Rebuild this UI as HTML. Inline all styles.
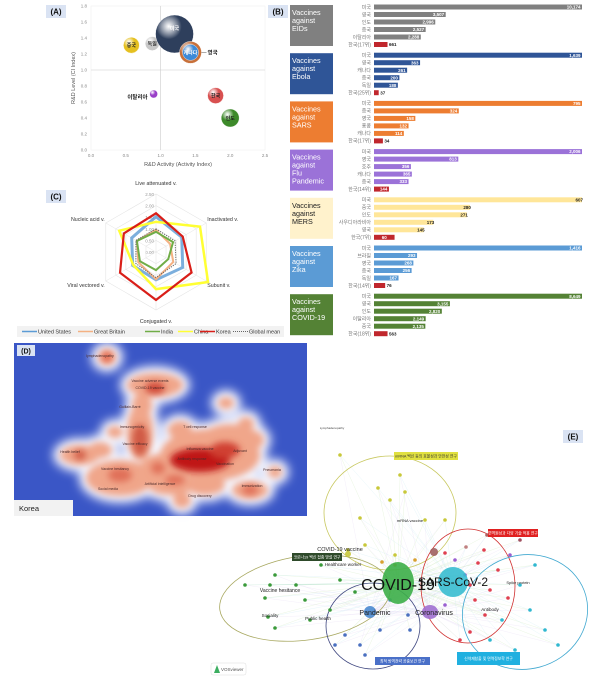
<!DOCTYPE html>
<html><head><meta charset="utf-8"><style>
html,body{margin:0;padding:0;background:#fff;}
svg{display:block;font-family:"Liberation Sans","Noto Sans CJK KR",sans-serif;}
</style></head><body>
<svg id="fig" width="616" height="679" viewBox="0 0 616 679" xmlns="http://www.w3.org/2000/svg">
<defs>
<filter id="b6" x="-50%" y="-50%" width="200%" height="200%"><feGaussianBlur stdDeviation="5"/></filter>
<filter id="b4" x="-50%" y="-50%" width="200%" height="200%"><feGaussianBlur stdDeviation="3.5"/></filter>
<filter id="b3" x="-50%" y="-50%" width="200%" height="200%"><feGaussianBlur stdDeviation="3"/></filter>
</defs>
<g id="panelA"></g>
<g id="panelB"></g>
<g id="panelC"></g>
<g id="panelD"></g>
<g id="panelE"></g>
</svg>
<script>
// ---------- Panel A data ----------
const bubbleNames = ['중국','독일','미국','영국','캐나다','이탈리아','한국','인도'];
const bubbleActivity = [0.58,0.88,1.2,1.43,1.43,0.9,1.79,2.0];
const bubbleLevel = [1.31,1.33,1.45,1.22,1.22,0.7,0.68,0.4];
const bubbleSize = [8,7,19,11,8,4,8,9];
const aTicksX = ['0.0','0.5','1.0','1.5','2.0','2.5'];
const aTicksY = ['0.0','0.2','0.4','0.6','0.8','1.0','1.2','1.4','1.6','1.8'];
// ---------- Panel B data ----------
const groupNames = [['Vaccines','against','EIDs'],['Vaccines','against','Ebola'],['Vaccines','against','SARS'],['Vaccines','against','Flu','Pandemic'],['Vaccines','against','MERS'],['Vaccines','against','Zika'],['Vaccines','against','COVID-19']];
const countryLabels = [
 ['미국','영국','인도','중국','이탈리아','한국(17위)'],
 ['미국','영국','캐나다','중국','독일','한국(25위)'],
 ['미국','중국','영국','홍콩','캐나다','한국(17위)'],
 ['미국','영국','호주','캐나다','중국','한국(14위)'],
 ['미국','중국','인도','사우디아라비아','영국','한국(7위)'],
 ['미국','브라질','영국','중국','독일','한국(14위)'],
 ['미국','영국','인도','이탈리아','중국','한국(18위)']];
const barValues = [
 [10174,3507,2996,2527,2288,661],
 [1639,363,261,200,188,37],
 [795,324,158,132,114,34],
 [2006,813,356,365,333,144],
 [607,280,271,173,145,60],
 [1416,293,268,256,167,76],
 [8649,3155,2820,2149,2135,563]];
// ---------- Panel C data ----------
const radarAxes = ['Live attenuated v.','Inactivated v.','Subunit v.','Conjugated v.','Viral vectored v.','Nucleic acid v.'];
const radarTicks = [0,0.5,1.0,1.5,2.0,2.5];
const usValues = [1.52,1.28,1.33,1.2,1.16,1.21];
const gbValues = [0.95,0.7,0.86,1.18,0.88,0.95];
const indiaValues = [0.87,0.85,0.61,0.78,0.8,0.95];
const chinaValues = [1.3,2.19,2.59,1.6,1.13,1.83];
const koreaValues = [1.67,1.33,1.77,2.07,1.79,1.6];
const globalValues = [1.0,0.95,1.0,1.1,1.0,1.0];

const NS='http://www.w3.org/2000/svg';
function el(parent,tag,attrs,text){const e=document.createElementNS(NS,tag);for(const k in attrs)e.setAttribute(k,attrs[k]);if(text!==undefined)e.textContent=text;parent.appendChild(e);return e;}
function labelBox(parent,x,y,t){const g=el(parent,'g',{});el(g,'rect',{x:x,y:y,width:20,height:13,fill:'#dae3f3'});el(g,'text',{x:x+10,y:y+9.5,'font-size':8,'font-weight':'bold','text-anchor':'middle',fill:'#111'},t);}

// ===== Panel A =====
(function(){
 const g=document.getElementById('panelA');
 labelBox(g,46,5,'(A)');
 const x0=91,x1=265,y0=150,y1=6;
 const sx=v=>x0+(v/2.5)*(x1-x0), sy=v=>y0-(v/1.8)*(y0-y1);
 const pa=el(g,'rect',{x:x0,y:y1,width:x1-x0,height:y0-y1,fill:'#fff',stroke:'#eee','stroke-width':0.5});
 
 aTicksX.forEach(t=>{const tx=el(g,'text',{x:sx(+t),y:y0+7,'font-size':4.5,'text-anchor':'middle',fill:'#888'},t);});
 aTicksY.forEach(t=>{const tx=el(g,'text',{x:x0-4,y:sy(+t)+1.5,'font-size':4.5,'text-anchor':'end',fill:'#888'},t);});
 el(g,'line',{x1:sx(1),y1:y1,x2:sx(1),y2:y0,stroke:'#ccc','stroke-width':0.6});
 el(g,'line',{x1:x0,y1:sy(1),x2:x1,y2:sy(1),stroke:'#ccc','stroke-width':0.6});
 const xt=el(g,'text',{x:178,y:166,'font-size':5.5,'text-anchor':'middle',fill:'#555'},'R&D Activity (Activity Index)');
 
 const yt=el(g,'text',{x:75,y:78,'font-size':5.5,'text-anchor':'middle',fill:'#555',transform:'rotate(-90 75 78)'},'R&D Level (CI Index)');
 
 const fills=['#e5c020','#c8c8c8','#2e3f5c','#c8703a','#3d8ad8','#9a40c8','#d85050','#3d8a2a'];
 const tcol=['#222','#333','#fff','#fff','#fff','#222','#222','#222'];
 const defs=document.querySelector('defs');
 bubbleNames.forEach((n,i)=>{
  const gr=el(defs,'radialGradient',{id:'bg'+i,cx:'35%',cy:'30%',r:'75%'});
  el(gr,'stop',{offset:'0%','stop-color':'#fff','stop-opacity':0.85});
  el(gr,'stop',{offset:'45%','stop-color':fills[i]});
  el(gr,'stop',{offset:'100%','stop-color':fills[i],'stop-opacity':1});
  const c=el(g,'circle',{cx:sx(bubbleActivity[i]),cy:sy(bubbleLevel[i]),r:bubbleSize[i],fill:'url(#bg'+i+')',stroke:'#fff','stroke-width':0.4});
  
  const cx=sx(bubbleActivity[i]),cy=sy(bubbleLevel[i]);
  let t;
  if(n==='영국'){el(g,'line',{x1:cx+11,y1:cy,x2:cx+16,y2:cy,stroke:'#555','stroke-width':0.5});t=el(g,'text',{x:cx+17,y:cy+2,'font-size':5.5,'font-weight':'bold',fill:'#222'},n);}
  else if(n==='이탈리아'){t=el(g,'text',{x:cx-6,y:cy+5,'font-size':5.5,'font-weight':'bold','text-anchor':'end',fill:'#222'},n);}
  else t=el(g,'text',{x:cx,y:cy+(n==='미국'?-4:2),'font-size':5,'font-weight':'bold','text-anchor':'middle',fill:tcol[i]},n);
  
 });
})();

// ===== Panel B =====
(function(){
 const g=document.getElementById('panelB');
 labelBox(g,268,5,'(B)');
 const colors=['#808080','#2f5597','#ed7d31','#9b72d8','#ffe699','#5b9bd5','#548235'];
 const startX=374,maxW=208;
 groupNames.forEach((lines,gi)=>{
  const top=5+gi*48.2;
  const box=el(g,'rect',{x:290,y:top,width:43,height:41,fill:gi===4?'#fff2cc':colors[gi]});
  
  lines.forEach((ln,li)=>{el(g,'text',{x:292,y:top+10+li*8,'font-size':7.2,fill:gi===4?'#222':'#fff'},ln);});
  const vals=barValues[gi],mx=Math.max(...vals);
  vals.forEach((v,j)=>{
   const cy=top+2+j*7.5;
   const w=Math.max(3,v/mx*maxW);
   const isK=j===5;
   const r=el(g,'rect',{x:startX,y:cy-2.5,width:w,height:5,fill:isK?'#c0272d':colors[gi]});
   
   const lb=el(g,'text',{x:startX-3,y:cy+1.8,'font-size':5,'text-anchor':'end',fill:'#777'},countryLabels[gi][j]);
   
   const s=v.toLocaleString('en-US');
   let vt;
   if(gi===4) vt=el(g,'text',{x:isK?startX+w/2:startX+w+1,y:cy+1.6,'font-size':4.5,'font-weight':'bold','text-anchor':isK?'middle':'end',fill:isK?'#fff':'#222'},s);
   else if(w<14) vt=el(g,'text',{x:startX+w+1.5,y:cy+1.6,'font-size':4.5,'font-weight':'bold',fill:'#222'},s);
   else vt=el(g,'text',{x:startX+w-1.5,y:cy+1.6,'font-size':4.5,'font-weight':'bold','text-anchor':'end',fill:'#fff'},s);
   
  });
 });
})();

// ===== Panel C =====
(function(){
 const g=document.getElementById('panelC');
 labelBox(g,46,190,'(C)');
 const cx=156,cy=252,R=58,mx=2.5;
 const pt=(k,v)=>{const a=(-90+60*k)*Math.PI/180;return [cx+Math.cos(a)*v/mx*R,cy+Math.sin(a)*v/mx*R];};
 radarTicks.forEach(t=>{const p=radarAxes.map((_,k)=>pt(k,t).join(',')).join(' ');el(g,'polygon',{points:p,fill:'none',stroke:'#e4e4e4','stroke-width':0.6});
  const tl=el(g,'text',{x:cx-2,y:cy-t/mx*R+2,'font-size':4.5,'text-anchor':'end',fill:'#999'},t.toFixed(2));});
 radarAxes.forEach((a,k)=>{const p=pt(k,mx);el(g,'line',{x1:cx,y1:cy,x2:p[0],y2:p[1],stroke:'#e4e4e4','stroke-width':0.5});
  const lp=pt(k,mx+0.35);const anc=k===0||k===3?'middle':(k<3?'start':'end');
  const t=el(g,'text',{x:lp[0]+(k===1||k===2?-6:(k>3?6:0)),y:lp[1]+(k===0?-1:(k===3?5:2)),'font-size':5.3,'text-anchor':anc,fill:'#333'},a);
  });
 const series=[[usValues,'#5b9bd5',3,'',0.8],[gbValues,'#f4b183',2,'',1],[indiaValues,'#70ad47',2,'',1],[chinaValues,'#ffff33',2.5,'',1],[koreaValues,'#d91e18',2.2,'',1],[globalValues,'#666',1,'1.2,1.2',1]];
 const names=['united-states','great-britain','india','china','korea','global-mean'];
 series.forEach((s,i)=>{const p=s[0].map((v,k)=>pt(k,v).join(',')).join(' ');
  const pg=el(g,'polygon',{points:p,fill:'none',stroke:s[1],'stroke-width':s[2],'stroke-dasharray':s[3],opacity:s[4],'stroke-linejoin':'miter'});
  });
 const lg=el(g,'g',{});
 el(lg,'rect',{x:17,y:326,width:267,height:11,fill:'#f2f2f2'});
 const items=[['United States',22,'#5b9bd5',1.5,''],['Great Britain',78,'#f4b183',1.5,''],['India',145,'#70ad47',1.5,''],['China',178,'#ffff33',1.5,''],['Korea',200,'#d91e18',1.5,''],['Global mean',233,'#666',1,'1,1']];
 items.forEach(it=>{const e=el(lg,'g',{});
  el(e,'line',{x1:it[1],y1:331.5,x2:it[1]+15,y2:331.5,stroke:it[2],'stroke-width':it[3],'stroke-dasharray':it[4]});
  el(e,'text',{x:it[1]+16,y:333.5,'font-size':5.5,fill:'#333'},it[0]);});
})();

// ===== Panel D =====
(function(){
 const g=document.getElementById('panelD');
 const bg=el(g,'rect',{x:14,y:343,width:293,height:173,fill:'#3a56c6'});
 
 const blobs=[[107,357,9,8],[155,385,28,12],[142,405,10,12],[140,432,13,28],[210,455,50,26],[230,440,30,16],[80,455,20,10],[120,478,34,18],[160,468,20,14],[250,490,18,9],[275,472,7,6],[226,403,8,6],[246,424,8,7],[182,500,9,8],[250,440,14,10],[180,430,12,9],[115,432,8,6],[170,485,22,10],[100,450,12,8],[205,485,20,10]];
 const hal=el(g,'g',{filter:'url(#b6)'});
 blobs.forEach(b=>el(hal,'ellipse',{cx:b[0],cy:b[1],rx:b[2]+7,ry:b[3]+7,fill:'#f4f6ff'}));
 const mid=el(g,'g',{filter:'url(#b4)'});
 blobs.forEach(b=>el(mid,'ellipse',{cx:b[0],cy:b[1],rx:b[2],ry:b[3],fill:'#f0a68a'}));
 const core=el(g,'g',{filter:'url(#b4)'});
 [[200,460,30,12,'#c01818'],[225,450,15,8,'#d04030'],[155,388,10,6,'#d04a38'],[140,440,8,16,'#d05a44'],[107,357,5,5,'#e06048'],[80,455,6,5,'#d05a44'],[120,475,12,7,'#e07058'],[158,468,7,6,'#e07058'],[250,490,8,5,'#e07058'],[175,480,10,5,'#e07058']].forEach(c=>el(core,'ellipse',{cx:c[0],cy:c[1],rx:c[2],ry:c[3],fill:c[4]}));
 const words=[[100,357,'lymphadenopathy'],[150,382,'Vaccine adverse events'],[150,389,'COVID-19 vaccine'],[130,408,'Guillain-Barré'],[132,428,'Immunogenicity'],[135,445,'Vaccine efficacy'],[195,428,'T cell response'],[200,450,'Influenza vaccine'],[192,460,'Antibody response'],[225,465,'Vaccination'],[70,453,'Health belief'],[115,470,'Vaccine hesitancy'],[108,490,'Social media'],[160,485,'Artificial intelligence'],[240,452,'Adjuvant'],[252,487,'Immunization'],[272,471,'Pneumonia'],[200,497,'Drug discovery']];
 words.forEach(w=>{const t=el(g,'text',{x:w[0],y:w[1],'font-size':3.5,fill:'#4a2a2a','text-anchor':'middle'},w[2]);});
 el(g,'rect',{x:17,y:345,width:18,height:11,fill:'#dae3f3'});
 const lt=el(g,'text',{x:26,y:353.5,'font-size':7,'font-weight':'bold','text-anchor':'middle',fill:'#111'},'(D)');
 el(g,'rect',{x:14,y:500,width:59,height:16,fill:'#f2f2f2'});
 const kt=el(g,'text',{x:19,y:511,'font-size':7.5,fill:'#222'},'Korea');
})();

// ===== Panel E =====
(function(){
 const g=document.getElementById('panelE');
 labelBox(g,563,430,'(E)');
 const hubs={covid:[398,583],sars:[453,582],corona:[430,612],pand:[370,612]};
 const nodes=[
  [340,455,'#c8c83a'],[400,475,'#c8c83a'],[378,488,'#c8c83a'],[405,492,'#c8c83a'],[390,500,'#c8c83a'],[425,520,'#c8c83a'],[445,520,'#c8c83a'],[360,518,'#c8c83a'],[365,545,'#c8c83a'],[395,555,'#c8c83a'],[348,550,'#c8c83a'],[382,562,'#d8a030'],[395,565,'#d8a030'],[415,560,'#d8a030'],
  [321,565,'#3a9a3a'],[275,575,'#3a9a3a'],[270,585,'#3a9a3a'],[296,585,'#3a9a3a'],[265,598,'#3a9a3a'],[305,600,'#3a9a3a'],[268,617,'#3a9a3a'],[310,620,'#3a9a3a'],[245,585,'#3a9a3a'],[330,610,'#3a9a3a'],[355,592,'#3a9a3a'],[340,580,'#3a9a3a'],[275,628,'#3a9a3a'],
  [390,600,'#5a8fd0'],[380,630,'#4a70c0'],[345,635,'#4a70c0'],[360,645,'#4a70c0'],[335,645,'#4a70c0'],[365,655,'#4a70c0'],[408,615,'#4a70c0'],[410,630,'#4a70c0'],
  [466,547,'#c08080'],[484,550,'#e04050'],[445,553,'#e04050'],[478,563,'#e04050'],[470,585,'#e04050'],[490,590,'#e04050'],[475,600,'#e04050'],[485,615,'#e04050'],[470,632,'#e04050'],[460,640,'#e04050'],[498,570,'#e04050'],[508,598,'#e04050'],[487,535,'#b06060'],[520,540,'#a05060'],
  [520,585,'#30b8d0'],[502,620,'#30b8d0'],[530,610,'#30b8d0'],[545,630,'#30b8d0'],[558,645,'#30b8d0'],[535,565,'#30b8d0'],[490,640,'#30b8d0'],[515,650,'#30b8d0'],
  [455,560,'#9a60d0'],[445,605,'#9a60d0'],[465,575,'#9a60d0'],[510,555,'#9a60d0']];
 const edges=el(g,'g',{});
 nodes.forEach((n,i)=>{const hs=[hubs.covid,hubs.sars,i%3?hubs.corona:hubs.pand];hs.forEach((h,k)=>el(edges,'line',{x1:h[0],y1:h[1],x2:n[0],y2:n[1],stroke:k===0?'#b8e0a0':(k===1?'#b0e0ec':'#d8c8ee'),'stroke-width':0.3,opacity:0.5}));});
 const ells=[[390,513,66,57,0,'#c8c860'],[305,598,86,42,-8,'#a8a860'],[373,626,47,43,0,'#404880'],[468,586,47,57,0,'#d03030'],[525,612,63,57,-15,'#40a8d0']];
 ells.forEach((e,i)=>{const c=el(g,'ellipse',{cx:e[0],cy:e[1],rx:e[2],ry:e[3],fill:'none',stroke:e[5],'stroke-width':0.8,transform:'rotate('+e[4]+' '+e[0]+' '+e[1]+')'});});
 nodes.forEach(n=>{const c=el(g,'circle',{cx:n[0],cy:n[1],r:1.8,fill:n[2]});});
 const big=[[398,583,16,21,'#3cae48','covid-19-node'],[453,582,15,15,'#38bcd0','sars-cov-2-node'],[430,612,8,7,'#a070d0','coronavirus-node'],[370,612,6,6,'#4a8ad0','pandemic-node'],[434,552,4,4,'#a06060','node-b'],[348,554,3,3,'#c8c83a','node-vaccine']];
 big.forEach(b=>{const c=el(g,'ellipse',{cx:b[0],cy:b[1],rx:b[2],ry:b[3],fill:b[4],opacity:0.9});});
 const txt=[[398,590,16,'COVID-19','#111'],[453,586,12,'SARS-CoV-2','#111'],[434,615,7,'Coronavirus','#222'],[375,615,7,'Pandemic','#222'],[340,551,5.5,'COVID-19 vaccine','#222'],[280,592,5,'Vaccine hesitance','#222'],[318,620,4.5,'Public health','#222'],[270,617,4.5,'Sociality','#222'],[343,566,4.5,'Healthcare worker','#222'],[410,522,4,'mRNA vaccine','#222'],[332,429,3,'Lymphadenopathy','#444'],[490,611,4.5,'Antibody','#222'],[518,584,4,'Spike protein','#222']];
 txt.forEach(t=>{const e=el(g,'text',{x:t[0],y:t[1],'font-size':t[2],'text-anchor':'middle',fill:t[4]},t[3]);});
 const tags=[[394,452,64,8,'#e0e040','#333','mRNA 백신 등의 효율성과 안전성 연구'],[292,553,50,8,'#2e4a2a','#fff','코로나19 백신 접종 망설 연구'],[488,529,50,8,'#e02020','#fff','면역원성과 다양 기술 적용 연구'],[375,657,55,8,'#4a70c8','#fff','최적 방역전략 공중보건 연구'],[457,652,63,13,'#20b0e0','#fff','신약재창출 및 면역정보학 연구']];
 tags.forEach(t=>{const tg=el(g,'g',{});el(tg,'rect',{x:t[0],y:t[1],width:t[2],height:t[3],fill:t[4]});el(tg,'text',{x:t[0]+t[2]/2,y:t[1]+t[3]/2+1.5,'font-size':3.8,'text-anchor':'middle',fill:t[5]},t[6]);});
 const vg=el(g,'g',{});
 el(vg,'rect',{x:211,y:663,width:35,height:12,rx:2,fill:'#fff',stroke:'#ddd','stroke-width':0.5});
 el(vg,'path',{d:'M214 673 L217 665 L220 673 Z',fill:'#3cae60'});
 el(vg,'text',{x:221,y:671,'font-size':4.5,fill:'#555'},'VOSviewer');
})();
</script>
</body></html>
